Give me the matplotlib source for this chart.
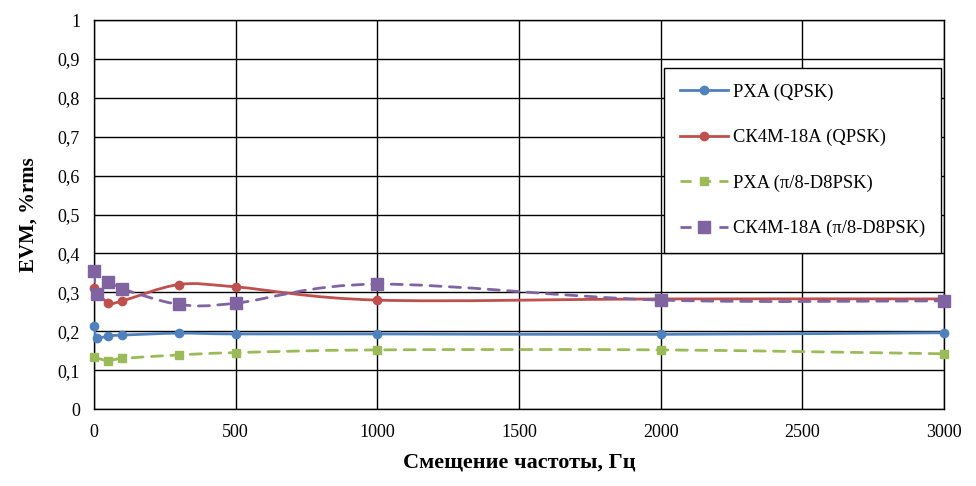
import matplotlib
matplotlib.use('Agg')
import matplotlib.pyplot as plt
from matplotlib.path import Path
from matplotlib.patches import PathPatch
from matplotlib.lines import Line2D
from matplotlib.ticker import FuncFormatter

plt.rcParams['font.family'] = ['Liberation Serif', 'DejaVu Serif']

# Data
pxa_qpsk_x = [0, 10, 50, 100, 300, 500, 1000, 2000, 3000]
pxa_qpsk_y = [0.213, 0.183, 0.188, 0.190, 0.195, 0.193, 0.193, 0.192, 0.196]

ck_qpsk_x = [0, 50, 100, 300, 500, 1000, 2000, 3000]
ck_qpsk_y = [0.310, 0.273, 0.278, 0.320, 0.314, 0.280, 0.283, 0.283]

pxa_d8_x = [0, 50, 100, 300, 500, 1000, 2000, 3000]
pxa_d8_y = [0.134, 0.124, 0.130, 0.139, 0.145, 0.152, 0.152, 0.142]

ck_d8_x = [0, 10, 50, 100, 300, 500, 1000, 2000, 3000]
ck_d8_y = [0.356, 0.295, 0.327, 0.309, 0.269, 0.272, 0.321, 0.280, 0.278]

labels = ['PXA (QPSK)', 'СК4М-18А (QPSK)', 'PXA (π/8-D8PSK)', 'СК4М-18А (π/8-D8PSK)']
colors = ['#4F81BD', '#C0504D', '#9BBB59', '#8064A2']


def smooth_path(xs, ys):
    # Excel-style smoothed line: Catmull-Rom as cubic Bezier segments
    pts = list(zip(xs, ys))
    verts = [pts[0]]
    codes = [Path.MOVETO]
    n = len(pts)
    for i in range(n - 1):
        p0 = pts[i - 1] if i > 0 else pts[i]
        p1 = pts[i]
        p2 = pts[i + 1]
        p3 = pts[i + 2] if i + 2 < n else pts[i + 1]
        c1 = (p1[0] + (p2[0] - p0[0]) / 6, p1[1] + (p2[1] - p0[1]) / 6)
        c2 = (p2[0] - (p3[0] - p1[0]) / 6, p2[1] - (p3[1] - p1[1]) / 6)
        verts += [c1, c2, p2]
        codes += [Path.CURVE4] * 3
    return Path(verts, codes)


def fmt(v, pos):
    if v == 0 or v == 1:
        return f'{int(v)}'
    return f'{v:.1f}'.replace('.', ',')


fig = plt.figure(figsize=(9.76, 4.86), dpi=100)
ax = fig.add_axes([0.0963, 0.1584, 0.8709, 0.8004])

series = [
    (pxa_qpsk_x, pxa_qpsk_y, '-', 'o', 6),
    (ck_qpsk_x, ck_qpsk_y, '-', 'o', 6),
    (pxa_d8_x, pxa_d8_y, (0, (4, 3)), 's', 6),
    (ck_d8_x, ck_d8_y, (0, (4, 3)), 's', 8),
]

handles = []
for (xs, ys, ls, mk, ms), col, lab in zip(series, colors, labels):
    patch = PathPatch(smooth_path(xs, ys), facecolor='none', edgecolor=col,
                      linewidth=2, linestyle=ls, zorder=3, capstyle='round')
    ax.add_patch(patch)
    ax.plot(xs, ys, linestyle='none', marker=mk, markersize=ms, color=col,
            zorder=4, clip_on=False)
    handles.append(Line2D([], [], color=col, linewidth=2, linestyle=ls,
                          marker=mk, markersize=ms, label=lab))

ax.set_xlim(0, 3000)
ax.set_ylim(0, 1)
ax.set_xticks(range(0, 3001, 500))
ax.set_yticks([i / 10 for i in range(11)])
ax.yaxis.set_major_formatter(FuncFormatter(fmt))
ax.grid(True, color='black', linewidth=1)
ax.set_axisbelow(True)
for s in ax.spines.values():
    s.set_color('black')
    s.set_linewidth(1)
ax.tick_params(axis='both', labelsize=13, length=0)
ax.tick_params(axis='x', pad=11)
ax.tick_params(axis='y', pad=10)

ax.set_xlabel('Смещение частоты, Гц', fontsize=16, fontweight='bold', labelpad=8)
ax.set_ylabel('EVM, %rms', fontsize=15, fontweight='bold', labelpad=14)

leg = ax.legend(handles=handles, loc='upper left', bbox_to_anchor=(0.671, 0.877),
                frameon=True, fancybox=False, edgecolor='black', fontsize=13.3,
                labelspacing=1.52, handlelength=2.6, borderpad=0.85,
                handletextpad=0.25, borderaxespad=0)
leg.get_frame().set_linewidth(1)
leg.get_frame().set_alpha(1)

fig.savefig('out.png', dpi=100)
